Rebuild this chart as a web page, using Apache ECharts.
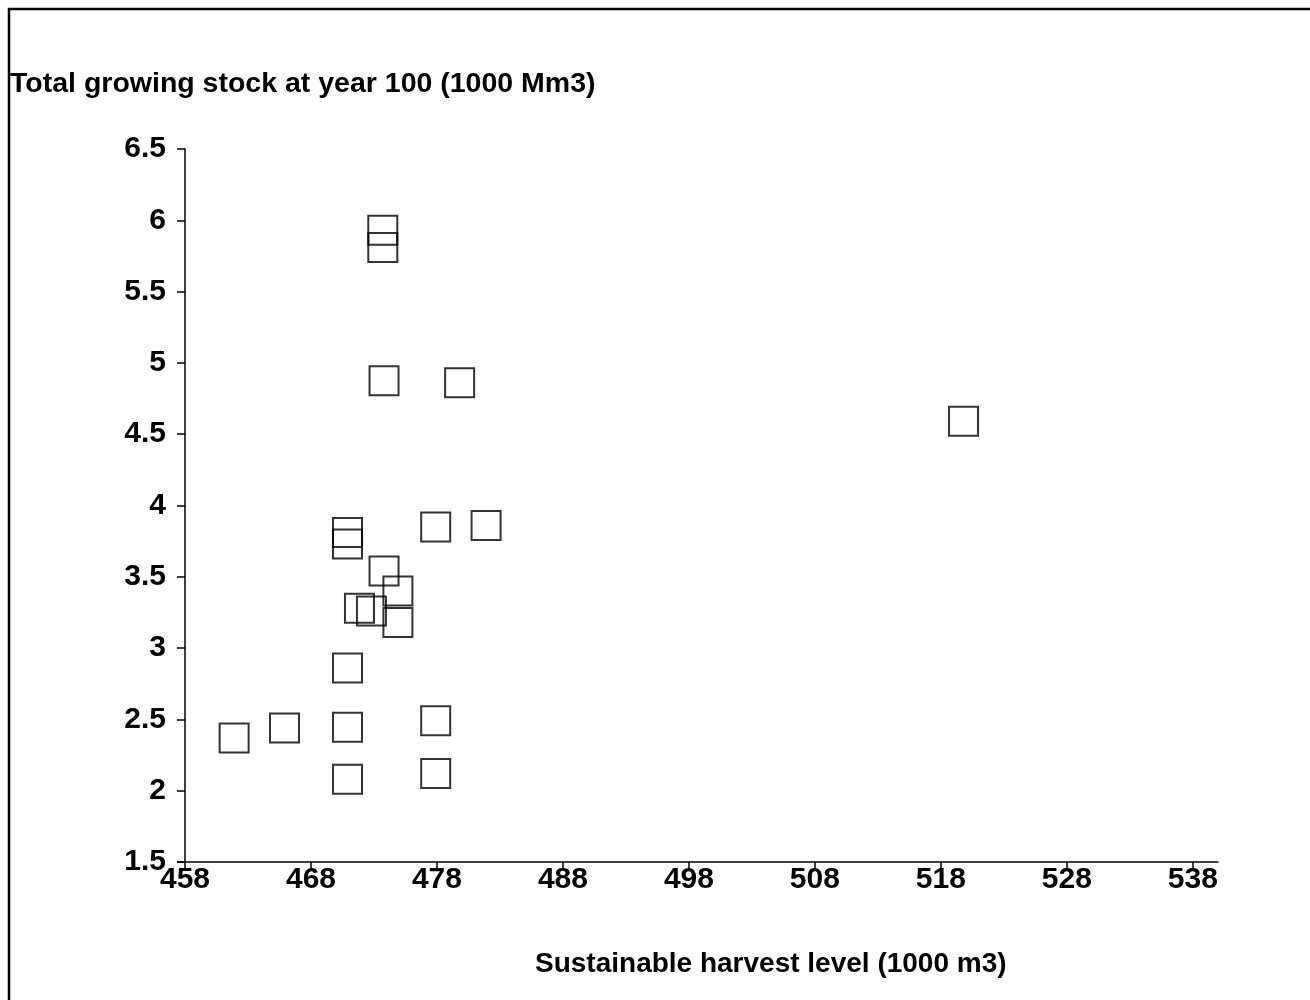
<!DOCTYPE html>
<html>
<head>
<meta charset="utf-8">
<script src="https://cdn.jsdelivr.net/npm/echarts@6/dist/echarts.min.js"></script>
<style>
html,body{margin:0;padding:0;background:#fff;}
#chart{width:1310px;height:1000px;}
</style>
</head>
<body>
<div id="chart"></div>
<script>
// Sustainable harvest level (1000 m3)
const harvestLevel = [473.7, 473.7, 473.8, 479.8, 470.9, 470.9, 477.9, 481.9, 473.8, 474.9, 471.85, 472.8, 474.9, 470.9, 477.9, 465.9, 470.9, 461.9, 470.9, 477.9, 519.8];
// Total growing stock at year 100 (1000 Mm3)
const growingStock = [5.93, 5.81, 4.875, 4.86, 3.81, 3.73, 3.85, 3.86, 3.54, 3.40, 3.28, 3.26, 3.18, 2.86, 2.49, 2.44, 2.445, 2.37, 2.08, 2.12, 4.59];
const xTicks = [458, 468, 478, 488, 498, 508, 518, 528, 538];
const yTicks = [1.5, 2, 2.5, 3, 3.5, 4, 4.5, 5, 5.5, 6, 6.5];
const yTitle = 'Total growing stock at year 100 (1000 Mm3)';
const xTitle = 'Sustainable harvest level (1000 m3)';

const points = harvestLevel.map((v, i) => [v, growingStock[i]]);
const font = '"Liberation Sans", Arial, Helvetica, sans-serif';

const chart = echarts.init(document.getElementById('chart'));
chart.setOption({
  backgroundColor: '#fff',
  animation: false,
  title: [
    { text: yTitle, left: 5, top: 65, textStyle: { fontFamily: font, fontSize: 28.5, fontWeight: 'bold', color: '#000' } },
    { text: xTitle, left: 530, top: 945, textStyle: { fontFamily: font, fontSize: 28, fontWeight: 'bold', color: '#000' } }
  ],
  grid: { left: 185, top: 149, right: 92, bottom: 138, containLabel: false },
  xAxis: {
    type: 'value', min: 458, max: 540,
    axisLine: { show: true, lineStyle: { color: '#000', width: 1.5 } },
    axisTick: { show: true, length: 8, lineStyle: { color: '#000', width: 1.5 }, customValues: xTicks },
    axisLabel: { customValues: xTicks, color: '#000', fontFamily: font, fontSize: 30, fontWeight: 'bold', margin: 3 },
    splitLine: { show: false }
  },
  yAxis: {
    type: 'value', min: 1.5, max: 6.5, interval: 0.5,
    axisLine: { show: true, lineStyle: { color: '#000', width: 1.5 } },
    axisTick: { show: true, length: 8, lineStyle: { color: '#000', width: 1.5 }, customValues: yTicks },
    axisLabel: { customValues: yTicks, color: '#000', fontFamily: font, fontSize: 30, fontWeight: 'bold', margin: 19,
      formatter: v => String(v) },
    splitLine: { show: false }
  },
  graphic: [
    { type: 'polyline', shape: { points: [[9, 1000], [9, 9], [1310, 9]] }, style: { stroke: '#000', lineWidth: 2.5, fill: null } },
    { type: 'line', shape: { x1: 177, y1: 862, x2: 185, y2: 862 }, style: { stroke: '#000', lineWidth: 1.5 } }
  ],
  series: [{
    type: 'scatter',
    data: points,
    symbol: 'rect',
    symbolSize: 29,
    itemStyle: { color: 'rgba(0,0,0,0)', borderColor: '#000', borderWidth: 2 }
  }]
});
</script>
</body>
</html>
